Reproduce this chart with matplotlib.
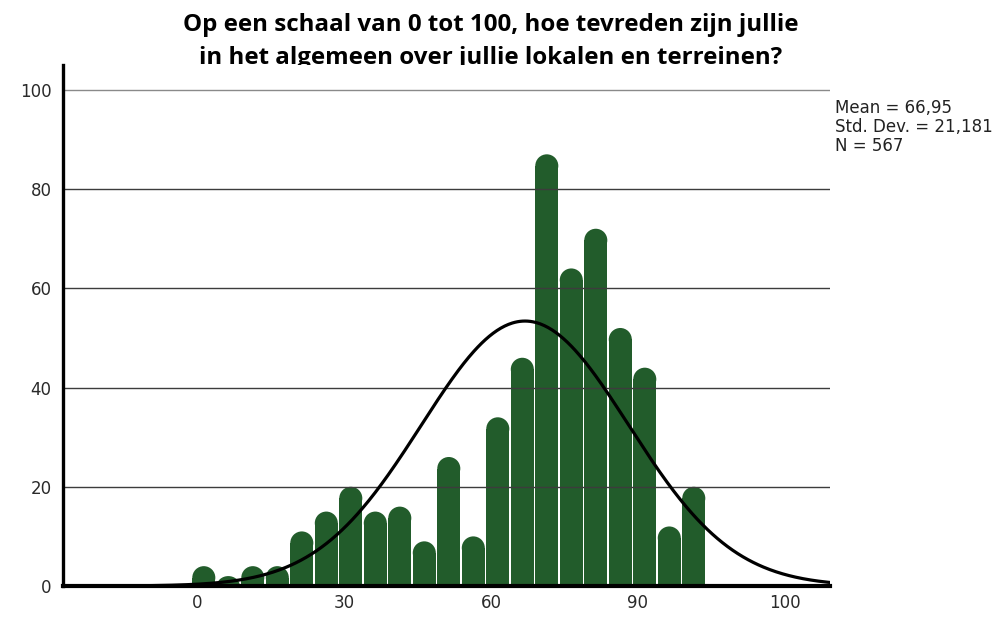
import numpy as np
import matplotlib
matplotlib.use("Agg")
import matplotlib.pyplot as plt
from matplotlib.patches import Rectangle, Ellipse

# histogram data
bin_centers = [1.4, 6.4, 11.4, 16.4, 21.4, 26.4, 31.4, 36.4, 41.4, 46.4, 51.4,
               56.4, 61.4, 66.4, 71.4, 76.4, 81.4, 86.4, 91.4, 96.4, 101.4]
counts = [4, 2, 4, 4, 11, 15, 20, 15, 16, 9, 26, 10, 34, 46, 87, 64, 72, 52, 44, 12, 20]
bin_width = 5

mean_val = 66.95
std_val = 21.181
n_val = 567

x_tick_pos = [0, 30, 60, 90, 120]
x_tick_labels = ["0", "30", "60", "90", "100"]
y_ticks = [0, 20, 40, 60, 80, 100]

title_lines = ["Op een schaal van 0 tot 100, hoe tevreden zijn jullie",
               "in het algemeen over jullie lokalen en terreinen?"]
stats = ["Mean = 66,95", "Std. Dev. = 21,181", "N = 567"]

bar_color = "#225c2b"
xlim = (-27.4, 129.2)
ylim = (0, 105.0)

fig = plt.figure(figsize=(10.02, 6.19), dpi=100)
ax_box = [62.7 / 1002, 33 / 619, (830 - 62.7) / 1002, (586 - 65) / 619]
ax = fig.add_axes(ax_box)
ax.set_xlim(*xlim)
ax.set_ylim(*ylim)

# pixel scale, to make round caps on the bars
px_x = ax_box[2] * 1002 / (xlim[1] - xlim[0])
px_y = ax_box[3] * 619 / (ylim[1] - ylim[0])

w = bin_width - 0.3
r_y = (w / 2) * px_x / px_y
for c, h in zip(bin_centers, counts):
    body = max(h - r_y, 0)
    ax.add_patch(Rectangle((c - w / 2, 0), w, body, facecolor=bar_color,
                           edgecolor="none", zorder=1))
    ax.add_patch(Ellipse((c, body), w, 2 * min(r_y, h), facecolor=bar_color,
                         edgecolor="none", zorder=1))

# grid lines over the bars
for yv in y_ticks[1:]:
    ax.axhline(yv, color="#3c3c3c" if yv != 100 else "#8a8a8a", lw=1.0, zorder=2)

# normal curve
xs = np.linspace(xlim[0], xlim[1], 600)
ys = n_val * bin_width / (std_val * np.sqrt(2 * np.pi)) * np.exp(-0.5 * ((xs - mean_val) / std_val) ** 2)
ax.plot(xs, ys, color="black", lw=2.3, zorder=3, solid_capstyle="round")

for s in ["top", "right"]:
    ax.spines[s].set_visible(False)
ax.spines["left"].set_linewidth(2.4)
ax.spines["bottom"].set_linewidth(3.0)
ax.spines["bottom"].set_zorder(2.5)

ax.set_xticks(x_tick_pos)
ax.set_xticklabels(x_tick_labels)
ax.set_yticks(y_ticks)
ax.tick_params(length=0, labelsize=12, colors="#2a2a2a", pad=6)
ax.tick_params(axis="y", pad=8)

# title sits behind the axes, so its bottom edge gets cut like in the source
fig.text(0.49, 1 - 31 / 619, title_lines[0], ha="center", va="baseline",
         fontsize=17.4, fontweight="bold", family="Open Sans", zorder=-1)
fig.text(0.49, 1 - 64 / 619, title_lines[1], ha="center", va="baseline",
         fontsize=17.4, fontweight="bold", family="Open Sans", zorder=-1)

for i, s in enumerate(stats):
    fig.text(0.833, 1 - (108 + 19 * i) / 619, s, ha="left", va="center",
             fontsize=12, color="#222222")

fig.savefig("out.png", dpi=100)
